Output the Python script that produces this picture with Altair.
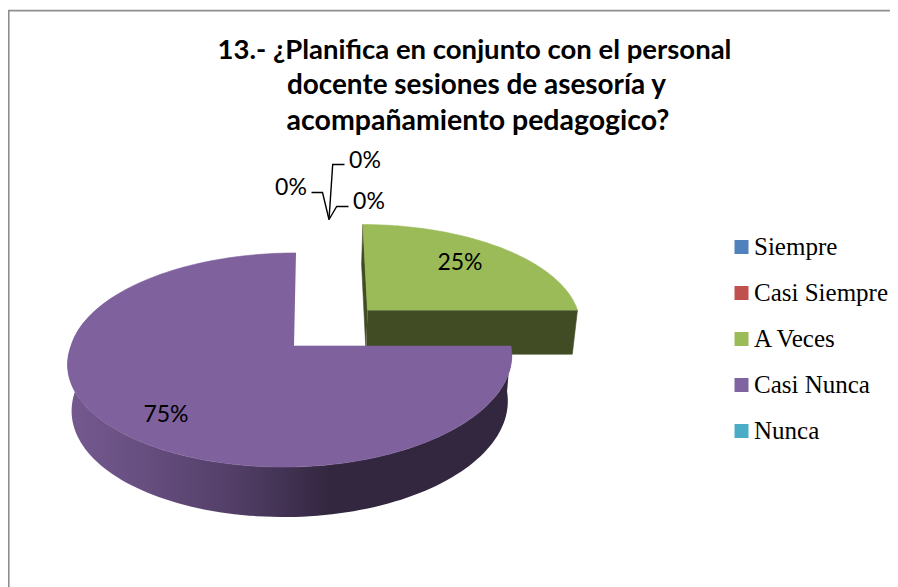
import math
import altair as alt
import pandas as pd

# ---- data ----
categories = ["Siempre", "Casi Siempre", "A Veces", "Casi Nunca", "Nunca"]
percent = [0, 0, 25, 75, 0]
colors = ["#4F81BD", "#C0504D", "#9BBB59", "#8064A2", "#4BACC6"]
purple_face = "#7F619D"
dark_green = "#414C24"
title_lines = [
    "13.- ¿Planifica en conjunto con el personal",
    "docente sesiones de asesoría y",
    "acompañamiento pedagogico?",
]
title_sizes = [27.5, 27.9, 28.5]

W, H = 882, 579
X0, Y0 = 8, 8


# ---- pseudo-3D projection of a unit pie ----
K = 0.1308          # perspective


def top_green(u, v):
    f = 1 / (1 - K * v)
    return (293.5 - 3.5 * v + 219.5 * u * f, 345 + 105.2 * v * f)


def top_purple(u, v):
    f = 1 / (1 - K * v)
    shear = -2 * v if v < 0 else -10 * v
    b = 217 if u > 0 else 223
    return (294 + shear + b * u * f, 346 + 105.2 * v * f)


def lower(point, v):
    x, y = point
    return (291.5 + (x - 291.5) * 0.982, y + 44 + 6 * (v + 0.36) / 1.36)


def bottom_green(u, v):
    return lower(top_green(u, v), v)


def bottom_purple(u, v):
    return lower(top_purple(u, v), v)


def rim(t, ox=0.0, oy=0.0):
    a = math.radians(t)
    return (math.sin(a) + ox, -math.cos(a) + oy)


def frange(a, b, n=120):
    return [a + (b - a) * i / n for i in range(n + 1)]


X = alt.X("x:Q", scale=alt.Scale(domain=[X0, X0 + W], nice=False), axis=None)
Y = alt.Y("y:Q", scale=alt.Scale(domain=[Y0 + H, Y0], nice=False), axis=None)


def poly(points, fill):
    df = pd.DataFrame([{"x": p[0], "y": p[1], "i": i} for i, p in enumerate(points)])
    solid = isinstance(fill, str)
    kwargs = {"stroke": fill, "strokeWidth": 0.6} if solid else {"strokeWidth": 0}
    return alt.Chart(df).mark_line(fill=fill, clip=False, **kwargs).encode(
        x=X, y=Y, order=alt.Order("i:Q")
    )


# slice angles from the values (clockwise from 12 o'clock)
g = categories.index("A Veces")
p = categories.index("Casi Nunca")
g0 = sum(percent[:g]) * 3.6
g1 = g0 + percent[g] * 3.6
p0 = g1
p1 = p0 + percent[p] * 3.6
EXPLODE = 0.49
gm = math.radians((g0 + g1) / 2)
ox, oy = EXPLODE * math.sin(gm), -EXPLODE * math.cos(gm)

g_arc = [rim(t, ox, oy) for t in frange(g0, g1)]
apex_g = (ox, oy)
green_inner = poly(
    [top_green(*apex_g), top_green(*g_arc[0]), bottom_green(*g_arc[0]), bottom_green(*apex_g)], dark_green
)
green_cut = poly(
    [top_green(*apex_g), top_green(*g_arc[-1]), bottom_green(*g_arc[-1]), bottom_green(*apex_g)], dark_green
)
green_top = poly([top_green(*apex_g)] + [top_green(*q) for q in g_arc], colors[g])

side_ts = frange(p0, 300)
purple_side = poly(
    [top_purple(*rim(t)) for t in side_ts] + [bottom_purple(*rim(t)) for t in reversed(side_ts)],
    alt.Gradient(
        gradient="linear", x1=0, x2=1, y1=0, y2=0,
        stops=[
            alt.GradientStop(offset=0.0, color="#75598F"),
            alt.GradientStop(offset=0.18, color="#664E7F"),
            alt.GradientStop(offset=0.41, color="#4E3B62"),
            alt.GradientStop(offset=0.59, color="#33273F"),
            alt.GradientStop(offset=1.0, color="#32273F"),
        ],
    ),
)
purple_top = poly([top_purple(0, 0)] + [top_purple(*rim(t)) for t in frange(p0, p1, 240)], purple_face)


# ---- frame ----
frame = alt.Chart(pd.DataFrame({"x": [X0 + W, X0 + 0.8, X0 + 0.8], "y": [10.6, 10.6, Y0 + H], "i": [0, 1, 2]})).mark_line(
    color="#8E8E8E", strokeWidth=1.6
).encode(x=X, y=Y, order=alt.Order("i:Q"))


# ---- leader lines of the three 0 % labels ----
tip_x, tip_y = 329, 219.5
leaders = []
for pts in (
    [(-17.5, -27), (-6.5, -27), (0, 0)],
    [(15.5, -55), (3.7, -55), (0, 0)],
    [(19.5, -13), (7.7, -13), (0, 0)],
):
    df = pd.DataFrame([{"x": tip_x + a, "y": tip_y + b, "i": i} for i, (a, b) in enumerate(pts)])
    leaders.append(
        alt.Chart(df).mark_line(color="#000000", strokeWidth=1.4).encode(x=X, y=Y, order=alt.Order("i:Q"))
    )

# ---- data labels ----
labels = pd.DataFrame(
    {
        "x": [291, 365, 369, 460, 166],
        "y": [188, 161, 202, 263, 415],
        "t": [f"{percent[0]}%", f"{percent[1]}%", f"{percent[4]}%", f"{percent[g]}%", f"{percent[p]}%"],
    }
)
label_layer = alt.Chart(labels).mark_text(
    font="Lato", fontSize=23, color="#000000", align="center", baseline="middle"
).encode(x=X, y=Y, text="t:N")

# ---- title ----
title_df = pd.DataFrame(
    {"t": title_lines, "s": title_sizes, "x": [474.5, 476.5, 478], "y": [50.5, 85.5, 120.5]}
)
title_layer = alt.Chart(title_df).mark_text(
    font="Lato", fontWeight="bold", color="#000000", align="center", baseline="middle"
).encode(x=X, y=Y, text="t:N", size=alt.Size("s:Q", scale=None, legend=None))

# ---- legend ----
legend_layer = alt.Chart(pd.DataFrame({"c": categories})).mark_square(size=0).encode(
    x=alt.value(-50),
    y=alt.value(-50),
    color=alt.Color(
        "c:N",
        scale=alt.Scale(domain=categories, range=colors),
        legend=alt.Legend(
            title=None,
            orient="none",
            legendX=721,
            legendY=226.5,
            symbolType="square",
            symbolSize=196,
            symbolOpacity=1,
            symbolStrokeWidth=0,
            labelFont="Liberation Serif",
            labelFontSize=25,
            labelColor="#000000",
            labelLimit=300,
            labelOffset=0,
            rowPadding=20,
            padding=0,
        ),
    ),
)

chart = alt.layer(
    frame,
    green_inner,
    green_cut,
    green_top,
    purple_side,
    purple_top,
    *leaders,
    label_layer,
    title_layer,
    legend_layer,
).properties(
    width=W,
    height=H,
    padding=0,
    autosize=alt.AutoSizeParams(type="none"),
    background="#FFFFFF",
).configure_view(stroke=None)

chart.save("out.html", embed_options={"renderer": "svg", "actions": False})
